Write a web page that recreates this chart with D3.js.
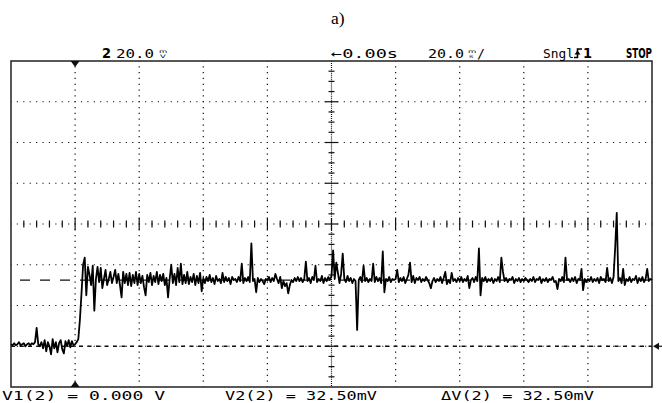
<!DOCTYPE html>
<html>
<head>
<meta charset="utf-8">
<script src="https://cdn.jsdelivr.net/npm/d3@7"></script>
<style>
  html, body { margin: 0; padding: 0; background: #fff; }
  svg { display: block; }
</style>
</head>
<body>
<svg id="scope" width="662" height="403"></svg>
<script>
// Channel 2 single-shot capture: 20 mV/div, 20 ms/div, time reference one division from the left.
const timeDomain = [-20, 180];   // ms across the 10 horizontal divisions
const voltDomain = [-20, 140];   // mV across the 8 vertical divisions
const timeDiv = 20;              // ms per division
const voltDiv = 20;              // mV per division
const triggerTime = 0;           // ms

// Trace samples in mV, first sample at sampleStart, one every sampleStep ms.
const sampleStart = -20;
const sampleStep = 0.5;
const traceMv = [
  // -20 .. -10.5 ms
  1.0, 0.5, 1.5, 0.5, 1.0, 2.0, 0.5, 1.0, 1.5, 0.0, 1.0, 1.5, 0.5, 1.5, 1.0, 2.0, 9.0, 1.0, 0.0, 2.0,
  // -10 .. -0.5 ms
  -1.0, 3.0, -2.5, 2.0, 0.0, -4.0, 3.5, -1.0, 2.0, -3.0, 1.5, 3.0, -1.5, -3.5, 2.5, 0.0, 3.0, -0.5, 2.5, 0.5,
  // 0 .. 9.5 ms: step and ringing
  1.0, 2.0, 3.5, 13.0, 26.0, 40.0, 43.5, 25.0, 39.0, 35.0, 30.0, 39.5, 17.5, 33.0, 39.0, 31.5, 38.5, 28.5, 33.0, 37.5,
  // 10 .. 19.5 ms
  30.0, 33.0, 36.5, 31.0, 34.0, 37.5, 31.0, 35.5, 30.0, 24.0, 36.5, 31.0, 35.5, 30.0, 36.0, 29.5, 35.0, 31.0, 36.5, 30.0,
  // 20 .. 29.5 ms
  35.5, 31.0, 34.5, 29.0, 25.0, 35.0, 31.5, 36.0, 30.0, 34.5, 31.5, 36.5, 30.5, 35.0, 32.0, 35.5, 30.0, 33.5, 24.0, 33.0,
  // 30 .. 39.5 ms
  40.0, 31.0, 35.5, 30.0, 38.5, 31.5, 40.5, 30.5, 35.0, 31.0, 36.5, 30.5, 34.0, 31.5, 35.5, 30.0, 34.5, 31.0, 36.0, 27.0,
  // 40 .. 49.5 ms
  33.5, 31.0, 34.0, 32.0, 35.0, 31.5, 33.5, 30.5, 34.5, 32.0, 33.0, 31.0, 36.0, 31.5, 34.0, 32.0, 33.5, 30.5, 34.0, 32.5,
  // 50 .. 59.5 ms
  33.0, 31.5, 34.0, 32.0, 40.5, 31.0, 33.5, 32.0, 34.0, 31.5, 50.5, 32.0, 33.0, 26.5, 33.5, 31.5, 33.0, 32.0, 30.5, 33.0,
  // 60 .. 69.5 ms
  32.5, 34.0, 31.5, 33.5, 32.0, 35.5, 33.0, 31.0, 34.0, 28.5, 32.0, 29.5, 31.0, 26.0, 30.0, 32.5, 31.5, 33.5, 32.0, 34.0,
  // 70 .. 79.5 ms
  32.0, 33.5, 31.5, 33.0, 41.5, 32.0, 33.5, 31.0, 34.0, 32.5, 39.5, 31.5, 33.0, 32.0, 34.5, 31.0, 33.5, 32.0, 34.0, 32.5,
  // 80 .. 89.5 ms
  34.5, 47.0, 33.0, 41.0, 36.0, 31.0, 35.5, 45.5, 33.0, 31.5, 34.5, 32.0, 33.5, 31.0, 33.0, 32.0, 8.0, 32.5, 34.0, 31.5,
  // 90 .. 99.5 ms
  39.5, 32.0, 33.5, 31.5, 33.0, 32.0, 40.5, 31.5, 34.0, 32.0, 33.5, 31.0, 46.5, 26.5, 33.0, 32.0, 34.0, 31.5, 33.0, 32.5,
  // 100 .. 109.5 ms
  33.0, 37.5, 31.5, 33.5, 32.0, 34.0, 31.0, 33.0, 35.0, 41.0, 31.5, 34.5, 31.0, 33.5, 32.5, 34.0, 31.5, 33.0, 32.0, 34.0,
  // 110 .. 119.5 ms
  32.5, 31.0, 28.5, 32.0, 33.5, 31.5, 33.0, 32.0, 34.0, 31.0, 33.5, 36.5, 30.5, 32.5, 31.0, 36.0, 32.0, 33.0, 31.5, 33.5,
  // 120 .. 129.5 ms
  32.0, 34.0, 31.5, 33.0, 32.0, 34.5, 28.5, 32.5, 33.5, 31.5, 34.0, 32.0, 48.0, 25.0, 33.5, 32.0, 34.0, 31.5, 33.0, 32.0,
  // 130 .. 139.5 ms
  33.5, 31.0, 33.0, 32.0, 34.0, 31.5, 43.5, 36.5, 32.0, 33.5, 31.5, 33.0, 32.5, 34.0, 31.0, 33.0, 32.0, 33.5, 31.5, 33.0,
  // 140 .. 149.5 ms
  32.0, 33.5, 32.5, 31.5, 33.0, 32.0, 34.0, 31.5, 33.0, 32.5, 34.0, 31.0, 33.0, 32.0, 33.5, 31.5, 33.0, 32.5, 34.0, 31.5,
  // 150 .. 159.5 ms
  32.0, 28.0, 33.0, 32.0, 34.0, 31.5, 43.5, 32.5, 33.0, 31.5, 33.5, 32.0, 34.0, 31.0, 33.0, 32.5, 38.0, 27.5, 33.0, 31.5,
  // 160 .. 169.5 ms
  33.0, 32.0, 34.0, 31.5, 33.0, 32.0, 33.5, 31.0, 34.0, 32.5, 33.0, 31.5, 38.5, 32.0, 33.5, 31.0, 34.0, 48.0, 65.5, 32.0,
  // 170 .. 180 ms
  33.5, 31.0, 38.0, 30.0, 33.0, 32.0, 34.0, 31.5, 33.0, 32.5, 34.5, 31.0, 33.5, 32.0, 34.0, 31.5, 33.0, 38.0, 32.0, 33.0,
  32.5
];

// Voltage cursors
const cursorV1 = 0;      // mV
const cursorV2 = 32.5;   // mV

// Status line and cursor readouts
const channelLabel = "2";
const channelScale = "20.0";
const channelUnit = ["m", "V"];
const delayLabel = "\u21900.00s";
const timeScale = "20.0";
const timeUnit = ["m", "s"];
const modeLabel = "Sngl";
const triggerSource = "1";
const runState = "STOP";
const readouts = ["V1(2) = 0.000 V", "V2(2) = 32.50mV", "\u0394V(2) = 32.50mV"];
const caption = "a)";

// ---------------------------------------------------------------------------
const svg = d3.select("#scope");
const ink = "#111";
const mono = "'DejaVu Sans Mono', monospace";
const sans = "'DejaVu Sans', sans-serif";

const x = d3.scaleLinear().domain(timeDomain).range([11, 652]);
const y = d3.scaleLinear().domain(voltDomain).range([387, 61]);

const xGrid = d3.range(timeDomain[0], timeDomain[1] + 1e-9, timeDiv);
const yGrid = d3.range(voltDomain[0], voltDomain[1] + 1e-9, voltDiv);
const tMid = (timeDomain[0] + timeDomain[1]) / 2;
const vMid = (voltDomain[0] + voltDomain[1]) / 2;

const divW = x(timeDiv) - x(0);
const divH = y(0) - y(voltDiv);

// Dotted graticule
const grid = svg.append("g").attr("stroke", ink).attr("stroke-width", 1.2);
const vPeriod = divH / 7, hPeriod = divW / 10;

grid.selectAll("line.v").data(xGrid.slice(1, -1).filter(t => t !== tMid)).join("line")
  .attr("x1", d => x(d)).attr("x2", d => x(d))
  .attr("y1", y(voltDomain[1])).attr("y2", y(voltDomain[0]))
  .attr("stroke-dasharray", `1.2,${vPeriod - 1.2}`)
  .attr("stroke-dashoffset", 0.6);

grid.selectAll("line.h").data(yGrid.slice(1, -1)).join("line")
  .attr("x1", x(timeDomain[0])).attr("x2", x(timeDomain[1]))
  .attr("y1", d => y(d)).attr("y2", d => y(d))
  .attr("stroke-dasharray", `1.2,${hPeriod - 1.2}`)
  .attr("stroke-dashoffset", 0.6);

// Centre vertical axis: close dots with minor ticks
grid.append("line")
  .attr("x1", x(tMid)).attr("x2", x(tMid))
  .attr("y1", y(voltDomain[1])).attr("y2", y(voltDomain[0]))
  .attr("stroke-dasharray", `1,${divH / 20 - 1}`);

const vMinor = d3.range(voltDomain[0], voltDomain[1] + 1e-9, voltDiv / 4).slice(1, -1);
grid.selectAll("line.vt").data(vMinor).join("line")
  .attr("x1", d => x(tMid) - (d % voltDiv === 0 ? 6.5 : 3))
  .attr("x2", d => x(tMid) + (d % voltDiv === 0 ? 6.5 : 3))
  .attr("y1", d => y(d)).attr("y2", d => y(d));

// Centre horizontal axis: minor ticks
const hMinor = d3.range(timeDomain[0], timeDomain[1] + 1e-9, timeDiv / 5).slice(1, -1);
grid.selectAll("line.ht").data(hMinor).join("line")
  .attr("x1", d => x(d)).attr("x2", d => x(d))
  .attr("y1", d => y(vMid) - (d % timeDiv === 0 ? 6 : 3.5))
  .attr("y2", d => y(vMid) + (d % timeDiv === 0 ? 6 : 3.5));

// Cursor lines
svg.append("line")
  .attr("x1", x(timeDomain[0])).attr("x2", x(timeDomain[1]))
  .attr("y1", y(cursorV2)).attr("y2", y(cursorV2))
  .attr("stroke", ink).attr("stroke-width", 1.3)
  .attr("stroke-dasharray", "10,10").attr("stroke-dashoffset", 11);

svg.append("line")
  .attr("x1", x(timeDomain[0])).attr("x2", x(timeDomain[1]))
  .attr("y1", y(cursorV1)).attr("y2", y(cursorV1))
  .attr("stroke", ink).attr("stroke-width", 1.3)
  .attr("stroke-dasharray", "4,4.5");

// Screen frame
svg.append("rect")
  .attr("x", x(timeDomain[0])).attr("y", y(voltDomain[1]))
  .attr("width", x(timeDomain[1]) - x(timeDomain[0]))
  .attr("height", y(voltDomain[0]) - y(voltDomain[1]))
  .attr("fill", "none").attr("stroke", "#222").attr("stroke-width", 1.5);

// Trigger position markers
const tx = x(triggerTime), frameTop = y(voltDomain[1]), frameBot = y(voltDomain[0]);
svg.append("path").attr("fill", ink)
  .attr("d", `M${tx - 4.5},${frameTop} L${tx + 4.5},${frameTop} L${tx},${frameTop + 6} Z`);
svg.append("path").attr("fill", ink)
  .attr("d", `M${tx - 4.5},${frameBot} L${tx + 4.5},${frameBot} L${tx},${frameBot - 6} Z`);

// Ground reference marker on the right edge
const gy = y(cursorV1), rx = x(timeDomain[1]);
svg.append("path").attr("fill", ink)
  .attr("d", `M${rx + 1},${gy} L${rx + 7},${gy - 3.5} L${rx + 7},${gy + 3.5} Z`);
svg.append("line").attr("x1", rx + 6).attr("x2", rx + 10)
  .attr("y1", gy).attr("y2", gy).attr("stroke", ink).attr("stroke-width", 1.2);

// Waveform
const line = d3.line()
  .x((d, i) => x(sampleStart + i * sampleStep))
  .y(d => y(d));
svg.append("path").datum(traceMv)
  .attr("d", line)
  .attr("fill", "none").attr("stroke", "#000")
  .attr("stroke-width", 1.8).attr("stroke-linejoin", "round");

// Caption
svg.append("text").text(caption)
  .attr("x", 331).attr("y", 23.5)
  .attr("font-family", "'Liberation Serif', serif").attr("font-size", 17.5).attr("fill", "#000");

// Status line
const status = svg.append("g").attr("fill", "#000");
const sBase = 57.5;
function txt(s, x0, len, opts = {}) {
  const t = status.append("text").text(s)
    .attr("x", x0).attr("y", opts.y || sBase)
    .attr("font-family", opts.family || mono)
    .attr("font-size", opts.size || 13)
    .attr("font-weight", opts.bold ? "bold" : "normal");
  if (len) t.attr("textLength", len).attr("lengthAdjust", "spacingAndGlyphs");
  return t;
}
// stacked unit glyph: two small, vertically squeezed letters one above the other
function stacked(pair, x0) {
  [[pair[0], x0, sBase - 4.6], [pair[1], x0 + 1, sBase + 0.6]].forEach(([ch, cx, cy]) => {
    status.append("text").text(ch)
      .attr("transform", `translate(${cx},${cy}) scale(1,0.55)`)
      .attr("font-family", sans).attr("font-size", 8.5);
  });
}

txt(channelLabel, 102, 9, { bold: true, family: sans, size: 13.5 });
txt(channelScale, 116, 38);
stacked(channelUnit, 159);
txt(delayLabel, 331, 67);
txt(timeScale, 428, 36);
stacked(timeUnit, 468);
txt("/", 477, 8);
txt(modeLabel, 543, 31);
// rising-edge trigger symbol
status.append("path")
  .attr("d", `M574,${sBase} H577.5 V${sBase - 8.5} H582`)
  .attr("fill", "none").attr("stroke", "#000").attr("stroke-width", 1.6);
status.append("path")
  .attr("d", `M574.5,${sBase - 3} L577.5,${sBase - 7} L580.5,${sBase - 3} Z`)
  .attr("fill", "#000");
txt(triggerSource, 583, 9, { bold: true, family: sans, size: 13.5 });
txt(runState, 626, 26, { bold: true, family: "'DejaVu Sans Condensed', 'DejaVu Sans', sans-serif", size: 13.5 });

// Cursor readouts
const rx0 = [2, 225, 441], rlen = [163, 152, 153];
readouts.forEach((s, i) => {
  svg.append("text").text(s)
    .attr("x", rx0[i]).attr("y", 400)
    .attr("font-family", mono).attr("font-size", 13).attr("fill", "#000")
    .attr("textLength", rlen[i]).attr("lengthAdjust", "spacingAndGlyphs");
});
</script>
</body>
</html>
